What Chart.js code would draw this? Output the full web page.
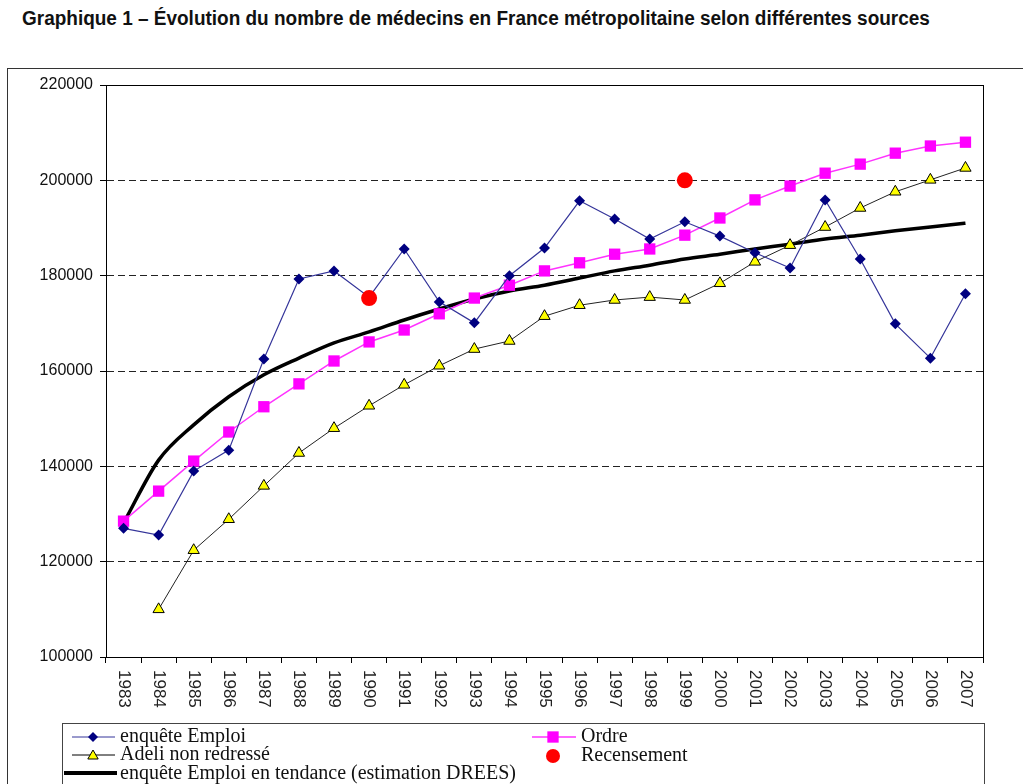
<!DOCTYPE html>
<html>
<head>
<meta charset="utf-8">
<script src="https://cdn.jsdelivr.net/npm/chart.js@4/dist/chart.umd.min.js"></script>
<style>
  body { margin: 0; background: #fff; }
  #wrap { position: relative; width: 1023px; height: 784px; overflow: hidden; }
  #title { position: absolute; left: 22px; top: 7px; font: bold 20px "Liberation Sans", Arial, sans-serif; color: #111; white-space: nowrap; transform-origin: 0 0; }
  #frame { position: absolute; left: 7px; top: 68px; width: 1030px; height: 800px; border: 1px solid #333; }
  #chart { position: absolute; left: 0; top: 0; }
</style>
</head>
<body>
<div id="wrap">
  <div id="title">Graphique 1 – Évolution du nombre de médecins en France métropolitaine selon différentes sources</div>
  <div id="frame"></div>
  <canvas id="chart" width="1023" height="784"></canvas>
</div>
<script>
// Données
const years = ['1983', '1984', '1985', '1986', '1987', '1988', '1989', '1990', '1991', '1992', '1993', '1994', '1995',
    '1996', '1997', '1998', '1999', '2000', '2001', '2002', '2003', '2004', '2005', '2006', '2007'];
const enqueteEmploi = [127000, 125600, 139000, 143400, 162500, 179300, 181000, 175500, 185600, 174500, 170100, 180000, 185800,
    195700, 191900, 187700, 191300, 188300, 184800, 181600, 195900, 183500, 169900, 162700, 176200];
const ordre = [128500, 134800, 141100, 147200, 152500, 157300, 162100, 166100, 168600, 172000, 175300, 178000, 181000,
    182700, 184500, 185600, 188500, 192100, 195900, 198800, 201500, 203400, 205700, 207200, 208000];
const adeli = [null, 110000, 122400, 128900, 135900, 142800, 148000, 152700, 157100, 161100, 164600, 166300, 171500,
    173800, 174900, 175500, 174900, 178400, 182900, 186400, 190200, 194200, 197600, 200100, 202600];
const recensement = [null, null, null, null, null, null, null, 175300, null, null, null, null, null,
    null, null, null, 200000, null, null, null, null, null, null, null, null];
const tendance = [128100, 141300, 148700, 154600, 159200, 162700, 165900, 168200, 170700, 173000, 175100, 176800, 178000,
    179500, 181000, 182200, 183500, 184500, 185600, 186600, 187700, 188500, 189400, 190200, 191000];
const yTicks = [100000, 120000, 140000, 160000, 180000, 200000, 220000];

// fit title width
const title = document.getElementById('title');
title.style.transform = 'scaleX(' + (908 / title.offsetWidth) + ')';

const NAVY_LINE = '#35359a';
const NAVY = '#000080';

// Cadre du graphique + libellés des années (écrits vers le bas)
const framePlugin = {
    id: 'framePlugin',
    beforeDatasetsDraw(chart) {
        const ctx = chart.ctx;
        const a = chart.chartArea;
        ctx.save();
        ctx.strokeStyle = '#000';
        ctx.lineWidth = 1;
        ctx.strokeRect(Math.round(a.left) + 0.5, Math.round(a.top) + 0.5, Math.round(a.right - a.left), Math.round(a.bottom - a.top));
        ctx.restore();
    },
    afterDraw(chart) {
        const ctx = chart.ctx;
        const xs = chart.scales.x;
        ctx.save();
        ctx.fillStyle = '#222';
        ctx.font = '17px "Liberation Sans", Arial, sans-serif';
        ctx.textAlign = 'left';
        ctx.textBaseline = 'middle';
        years.forEach(function(y, i) {
            ctx.save();
            ctx.translate(xs.getPixelForValue(i), 670);
            ctx.rotate(Math.PI / 2);
            ctx.fillText(y, 0, 0);
            ctx.restore();
        });
        ctx.restore();
    }
};

// Légende dessinée sous le graphique
const legendPlugin = {
    id: 'legendPlugin',
    afterDraw(chart) {
        const ctx = chart.ctx;
        const drawPoint = Chart.helpers.drawPoint;
        ctx.save();
        ctx.strokeStyle = '#444';
        ctx.lineWidth = 1;
        ctx.strokeRect(62.5, 723.5, 922, 100);

        function seg(x1, x2, y, color, w) {
            ctx.save();
            ctx.strokeStyle = color;
            ctx.lineWidth = w;
            ctx.beginPath();
            ctx.moveTo(x1, y);
            ctx.lineTo(x2, y);
            ctx.stroke();
            ctx.restore();
        }
        function mark(style, r, x, y, fill, stroke, bw) {
            ctx.save();
            ctx.fillStyle = fill;
            ctx.strokeStyle = stroke;
            ctx.lineWidth = bw;
            drawPoint(ctx, { pointStyle: style, radius: r, rotation: 0, borderWidth: bw }, x, y);
            ctx.restore();
        }

        seg(72, 115, 737, NAVY_LINE, 1);
        mark('rectRot', 5, 93, 737, NAVY, NAVY, 0);
        seg(72, 115, 755, '#000', 1);
        mark('triangle', 6, 93, 756, '#ffff00', '#000', 1);
        seg(64, 117, 773, '#000', 4);
        seg(532, 576, 737, '#ff33ff', 1.5);
        mark('rect', 8, 553, 737, '#ff00ff', '#ff00ff', 0);
        mark('circle', 7, 553, 756, '#ff0000', '#ff0000', 0);

        ctx.fillStyle = '#111';
        ctx.font = '20px "Liberation Serif", "Times New Roman", serif';
        ctx.textAlign = 'left';
        ctx.textBaseline = 'middle';
        ctx.fillText('enquête Emploi', 120, 737);
        ctx.fillText('Adeli non redressé', 120, 755);
        ctx.fillText('enquête Emploi en tendance (estimation DREES)', 120, 774);
        ctx.fillText('Ordre', 581, 737);
        ctx.fillText('Recensement', 581, 756);
        ctx.restore();
    }
};

new Chart(document.getElementById('chart').getContext('2d'), {
    type: 'line',
    data: {
        labels: years,
        datasets: [{
            label: 'Recensement',
            data: recensement,
            showLine: false,
            pointStyle: 'circle',
            pointRadius: 8,
            pointBackgroundColor: '#ff0000',
            pointBorderColor: '#ff0000',
            pointBorderWidth: 0,
            order: 0
        }, {
            label: 'enquête Emploi',
            data: enqueteEmploi,
            borderColor: NAVY_LINE,
            borderWidth: 1.2,
            pointStyle: 'rectRot',
            pointRadius: 5.5,
            pointBackgroundColor: NAVY,
            pointBorderColor: NAVY,
            pointBorderWidth: 0,
            tension: 0,
            order: 1
        }, {
            label: 'Ordre',
            data: ordre,
            borderColor: '#ff33ff',
            borderWidth: 1.5,
            pointStyle: 'rect',
            pointRadius: 8,
            pointBackgroundColor: '#ff00ff',
            pointBorderColor: '#ff00ff',
            pointBorderWidth: 0,
            tension: 0,
            order: 2
        }, {
            label: 'Adeli non redressé',
            data: adeli,
            borderColor: '#222',
            borderWidth: 1,
            pointStyle: 'triangle',
            pointRadius: 6.5,
            pointBackgroundColor: '#ffff00',
            pointBorderColor: '#000',
            pointBorderWidth: 1,
            tension: 0,
            order: 3
        }, {
            label: 'enquête Emploi en tendance (estimation DREES)',
            data: tendance,
            borderColor: '#000',
            borderWidth: 3.5,
            pointRadius: 0,
            cubicInterpolationMode: 'monotone',
            order: 4
        }]
    },
    options: {
        responsive: false,
        animation: false,
        layout: { padding: { top: 85, right: 40, bottom: 0, left: 0 } },
        plugins: {
            legend: { display: false },
            tooltip: { enabled: false }
        },
        scales: {
            x: {
                offset: true,
                ticks: { display: false },
                grid: { offset: true, drawOnChartArea: false, drawTicks: true, tickLength: 6, tickColor: '#000' },
                border: { display: true, color: '#000' },
                afterFit: function(scale) { scale.height = 127; }
            },
            y: {
                min: 100000,
                max: 220000,
                afterBuildTicks: function(scale) { scale.ticks = yTicks.map(v => ({ value: v })); },
                ticks: {
                    color: '#111',
                    padding: 7,
                    font: { family: '"Liberation Sans", Arial, sans-serif', size: 16 },
                    callback: v => String(v)
                },
                grid: {
                    color: ctx => (ctx.tick && (ctx.tick.value === 100000 || ctx.tick.value === 220000)) ? 'rgba(0,0,0,0)' : '#222',
                    lineWidth: 1,
                    tickLength: 6,
                    tickColor: '#000'
                },
                border: { display: true, color: '#000', dash: [7, 4] },
                afterFit: function(scale) { scale.width = 106; }
            }
        }
    },
    plugins: [framePlugin, legendPlugin]
});
</script>
</body>
</html>
